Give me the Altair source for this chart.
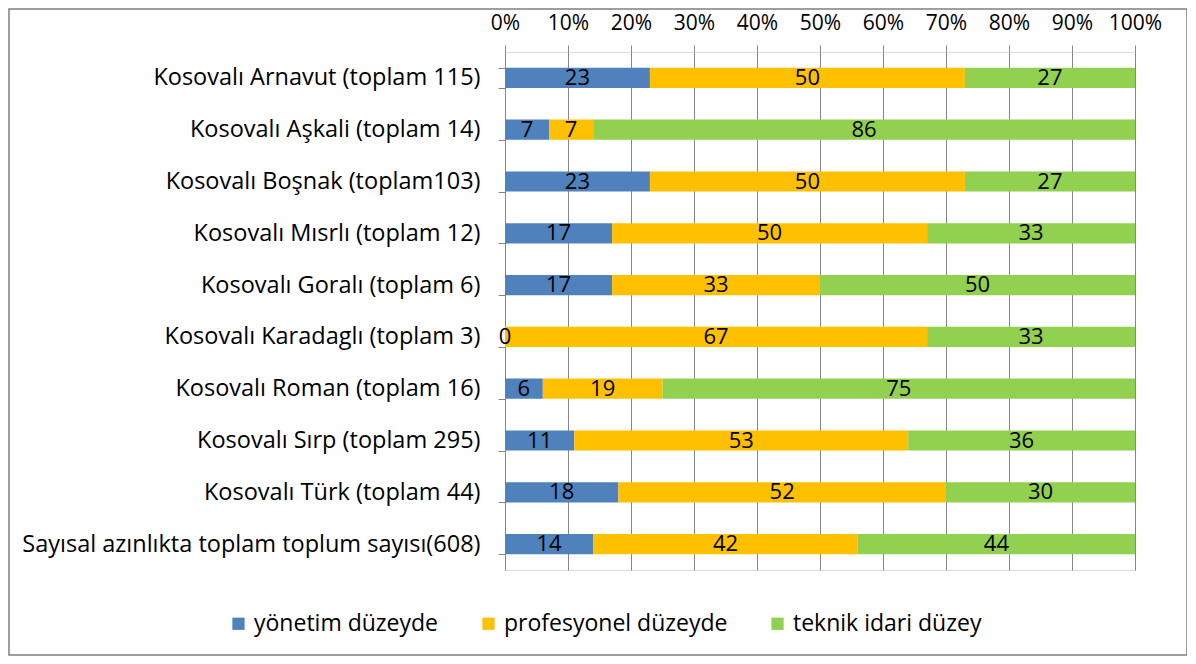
import altair as alt
import pandas as pd

categories = [
    "Kosovalı Arnavut (toplam 115)",
    "Kosovalı Aşkali (toplam 14)",
    "Kosovalı Boşnak (toplam103)",
    "Kosovalı Mısrlı (toplam 12)",
    "Kosovalı Goralı (toplam 6)",
    "Kosovalı Karadaglı (toplam 3)",
    "Kosovalı Roman (toplam 16)",
    "Kosovalı Sırp (toplam 295)",
    "Kosovalı Türk (toplam 44)",
    "Sayısal azınlıkta toplam toplum sayısı(608)",
]
series = ["yönetim düzeyde", "profesyonel düzeyde", "teknik idari düzey"]
yonetim = [23, 7, 23, 17, 17, 0, 6, 11, 18, 14]
profesyonel = [50, 7, 50, 50, 33, 67, 19, 53, 52, 42]
teknik = [27, 86, 27, 33, 50, 33, 75, 36, 30, 44]
colors = ["#4F81BD", "#FFC000", "#92D050"]
tick_values = [0, 0.1, 0.2, 0.3, 0.4, 0.5, 0.6, 0.7, 0.8, 0.9, 1.0]

rows = []
for i, c in enumerate(categories):
    for j, (s, vals) in enumerate(zip(series, [yonetim, profesyonel, teknik])):
        rows.append({"cat": c, "series": s, "order": j, "value": vals[i]})
df = pd.DataFrame(rows)

FONT = "Open Sans"
FS = 23.5
GRID = "#868686"

base = alt.Chart(df).transform_stack(
    stack="value",
    groupby=["cat"],
    as_=["start", "end"],
    offset="normalize",
    sort=[alt.SortField("order", order="ascending")],
).transform_calculate(mid="(datum.start + datum.end) / 2")

y_enc = alt.Y(
    "cat:N",
    sort=categories,
    title=None,
    scale=alt.Scale(paddingInner=0.61, paddingOuter=0.305),
    axis=alt.Axis(
        tickBand="extent",
        domainColor=GRID,
        tickColor=GRID,
        tickSize=7,
        labelPadding=18,
        labelFont=FONT,
        labelFontSize=FS,
        labelColor="#000000",
        labelLimit=600,
    ),
)

bars = base.mark_bar().encode(
    x=alt.X(
        "start:Q",
        scale=alt.Scale(domain=[0, 1], nice=False),
        title=None,
        axis=alt.Axis(
            orient="top",
            format=".0%",
            values=tick_values,
            domain=False,
            grid=True,
            gridColor=GRID,
            tickColor=GRID,
            tickSize=7,
            labelPadding=12,
            labelOverlap=False,
            labelFlush=False,
            labelFont=FONT,
            labelFontSize=21,
            labelColor="#000000",
        ),
    ),
    x2="end:Q",
    y=y_enc,
    color=alt.Color(
        "series:N",
        sort=series,
        scale=alt.Scale(domain=series, range=colors),
        legend=alt.Legend(
            title=None,
            orient="none",
            direction="horizontal",
            legendX=-278,
            legendY=560,
            symbolType="square",
            symbolSize=150,
            symbolStrokeWidth=0,
            labelFont=FONT,
            labelFontSize=23,
            labelColor="#000000",
            labelOffset=4,
            columnPadding=38,
            labelLimit=400,
        ),
    ),
    order=alt.Order("order:Q"),
)

labels = base.mark_text(font=FONT, fontSize=22, color="#000000", baseline="middle").encode(
    x="mid:Q",
    y=alt.Y("cat:N", sort=categories),
    text="value:Q",
)

frame = alt.Chart(pd.DataFrame({"a": [0]})).mark_rect(
    fill=None, fillOpacity=0, stroke="#7f7f7f", strokeWidth=1.5
).encode(
    x=alt.value(-496),
    x2=alt.value(682),
    y=alt.value(-43),
    y2=alt.value(603),
)

chart = alt.layer(bars, labels, frame).properties(
    width=630,
    height=518,
    autosize=alt.AutoSizeParams(type="none"),
    padding={"left": 497, "top": 44, "right": 52, "bottom": 86},
).configure_view(stroke=None).configure(background="white")

chart.save("out.html", embed_options={"renderer": "svg", "actions": False})
